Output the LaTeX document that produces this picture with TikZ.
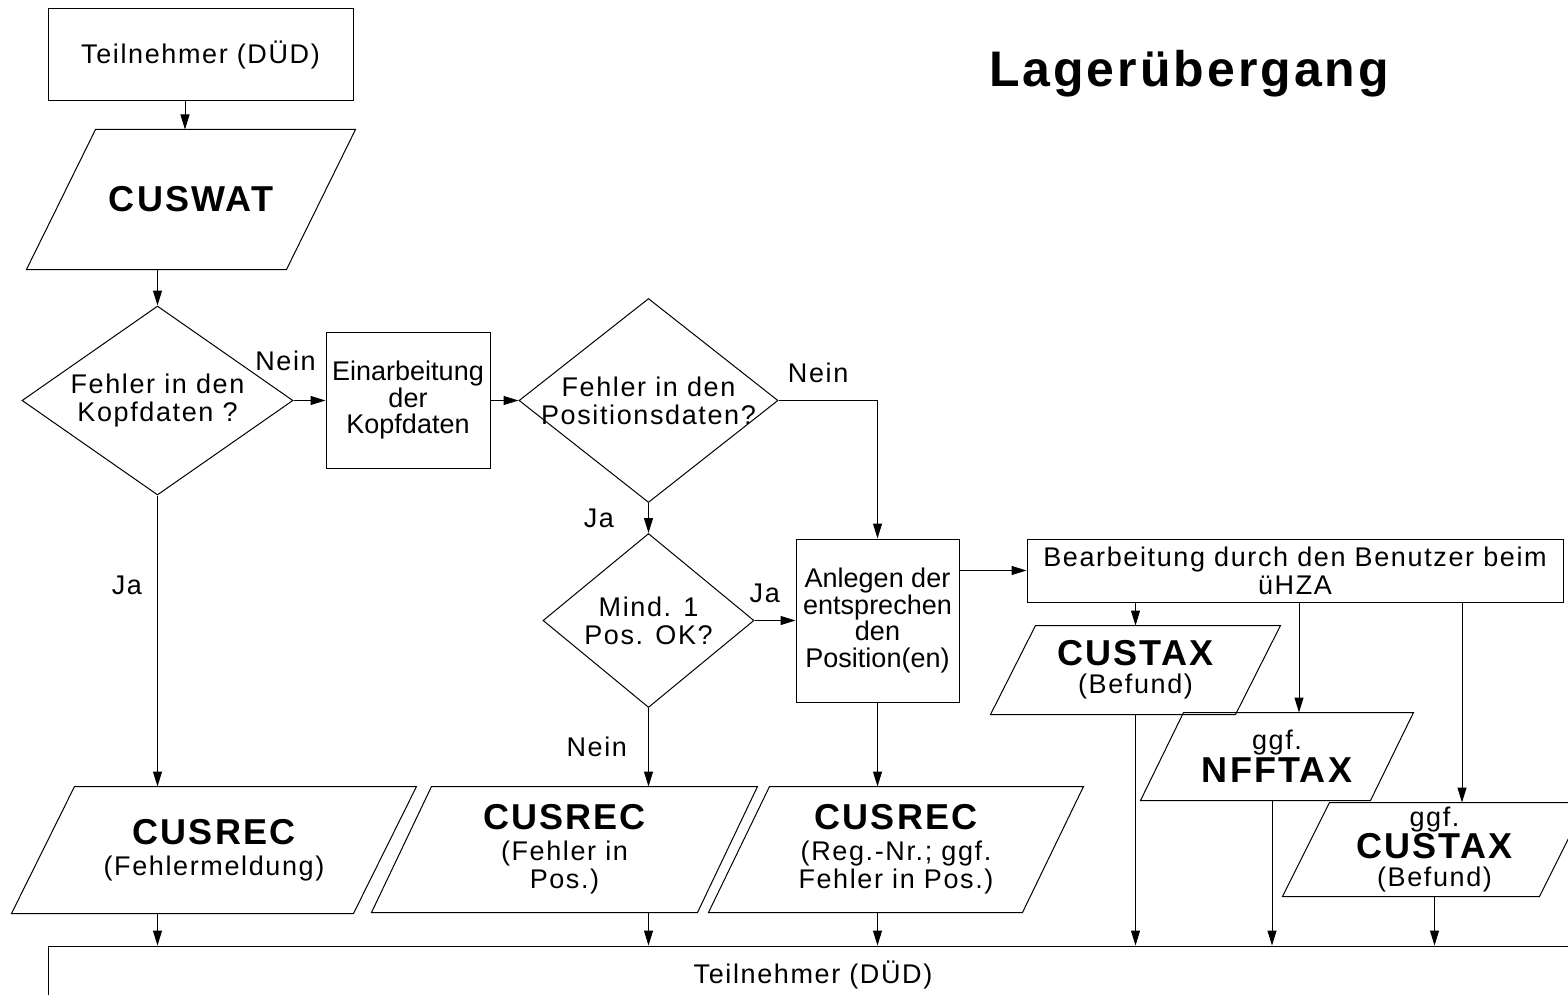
\documentclass[tikz,border=0pt]{standalone}
\usepackage{fontspec}
\setmainfont{Liberation Sans}
\usetikzlibrary{shapes.geometric, arrows.meta, positioning}

\newcommand{\msgname}[1]{{\fontsize{36}{38}\selectfont\bfseries #1}}

\begin{document}
\begin{tikzpicture}[
    x=1pt, y=-1pt,
    flow/.style={draw, line width=1pt, align=center, inner sep=0pt, font=\fontsize{27}{28}\selectfont\addfontfeature{LetterSpace=6}},
    box/.style={flow, rectangle},
    untracked/.style={font=\fontsize{27}{26.5}\selectfont},
    decision/.style={flow, diamond, aspect=1.3, inner sep=-8pt},
    data/.style={flow, rectangle, draw=none},
    lbl/.style={inner sep=0pt, font=\fontsize{27}{28}\selectfont\addfontfeature{LetterSpace=6}},
    arrow/.style={-{Triangle[length=15pt, width=9pt]}, line width=1pt},
]
\useasboundingbox (0,0) rectangle (1568,995);

% title
\node[font=\fontsize{50}{50}\selectfont\bfseries\addfontfeature{LetterSpace=6}, anchor=base] (title) at (1189,87) {Lagerübergang};

% left column
\node[box, minimum width=305pt, minimum height=92pt] (teil1) at (200.5,55) {Teilnehmer (DÜD)};
\node[data, minimum width=328pt, minimum height=139pt] (cuswat) at (191,199.5) {\msgname{CUSWAT}};
\node[decision, minimum width=271pt, minimum height=189pt] (d1) at (157.5,400.5) {Fehler in den\\Kopfdaten ?};
\node[box, untracked, minimum width=164pt, minimum height=136pt, right=32pt of d1] (einarb) {Einarbeitung\\der\\Kopfdaten};
\node[decision, minimum width=259pt, minimum height=204pt, right=28pt of einarb] (d2) {Fehler in den\\Positionsdaten?};
\node[decision, minimum width=211pt, minimum height=174pt, below=30pt of d2] (d3) {Mind. 1\\Pos. OK?};
\node[box, untracked, minimum width=163pt, minimum height=163pt, right=41pt of d3] (anlegen) {Anlegen der\\entsprechen\\den\\Position(en)};

% right part
\node[box, minimum width=536pt, minimum height=63pt] (bearb) at (1295,570.5) {Bearbeitung durch den Benutzer beim\\üHZA};
\node[data, minimum width=289pt, minimum height=88pt] (custax1) at (1135.5,670) {\msgname{CUSTAX}\\(Befund)};
\node[data, minimum width=272pt, minimum height=87pt] (nfftax) at (1277,756.5) {ggf.\\[2pt]\msgname{NFFTAX}};
\node[data, minimum width=303pt, minimum height=93pt] (custax2) at (1434.5,849.5) {ggf.\\\msgname{CUSTAX}\\(Befund)};

% bottom row
\node[data, minimum width=404pt, minimum height=126pt] (cusrec1) at (214,850) {\msgname{CUSREC}\\[3pt](Fehlermeldung)};
\node[data, minimum width=385pt, minimum height=125pt] (cusrec2) at (564.5,849.5) {\msgname{CUSREC}\\[3pt](Fehler in\\Pos.)};
\node[data, minimum width=374pt, minimum height=125pt] (cusrec3) at (896,849.5) {\msgname{CUSREC}\\[3pt](Reg.-Nr.; ggf.\\Fehler in Pos.)};
\node[box, minimum width=1530pt, minimum height=58pt] (teil2) at (813,975) {Teilnehmer (DÜD)};

% parallelogram outlines (node name / slant)
\foreach \n/\s in {cuswat/69, custax1/45, nfftax/43, custax2/47, cusrec1/63, cusrec2/60, cusrec3/61}
  \draw[line width=1pt] ([xshift=\s pt]\n.north west) -- (\n.north east)
    -- ([xshift=-\s pt]\n.south east) -- (\n.south west) -- cycle;

% connectors
\draw[arrow] ([xshift=-15.5pt]teil1.south) -- ([xshift=-15.5pt]teil1.south |- cuswat.north);
\draw[arrow] (d1.north |- cuswat.south) -- (d1.north);
\draw[arrow] (d1.east) -- node[lbl, pos=0, above=29pt, xshift=-8pt] {Nein} (einarb.west);
\draw[arrow] (einarb.east) -- (d2.west);
\draw[arrow] (d2.east) -| node[lbl, pos=0.2, above=17pt] {Nein} (anlegen.north);
\draw[arrow] (d2.south) -- node[lbl, midway, left=34pt] {Ja} (d3.north);
\draw[arrow] (d3.east) -- node[lbl, pos=0.25, above=17pt] {Ja} (anlegen.west);
\draw[arrow] (anlegen.east |- bearb.west) -- (bearb.west);
\draw[arrow] (d1.south) -- node[lbl, pos=0.31, left=15pt] {Ja} (d1.south |- cusrec1.north);
\draw[arrow] (d3.south) -- node[lbl, midway, left=21pt] {Nein} (d3.south |- cusrec2.north);
\draw[arrow] (anlegen.south) -- (anlegen.south |- cusrec3.north);
\draw[arrow] (custax1.center |- bearb.south) -- (custax1.north);
\draw[arrow] ([xshift=22pt]nfftax.north |- bearb.south) -- ([xshift=22pt]nfftax.north);
\draw[arrow] ([xshift=27.5pt]custax2.north |- bearb.south) -- ([xshift=27.5pt]custax2.north);
\draw[arrow] (d1.south |- cusrec1.south) -- (d1.south |- teil2.north);
\draw[arrow] (d3.south |- cusrec2.south) -- (d3.south |- teil2.north);
\draw[arrow] (anlegen.south |- cusrec3.south) -- (anlegen.south |- teil2.north);
\draw[arrow] (custax1.south) -- (custax1.south |- teil2.north);
\draw[arrow] ([xshift=-5pt]nfftax.south) -- ([xshift=-5pt]nfftax.south |- teil2.north);
\draw[arrow] (custax2.south) -- (custax2.south |- teil2.north);
\end{tikzpicture}
\end{document}
